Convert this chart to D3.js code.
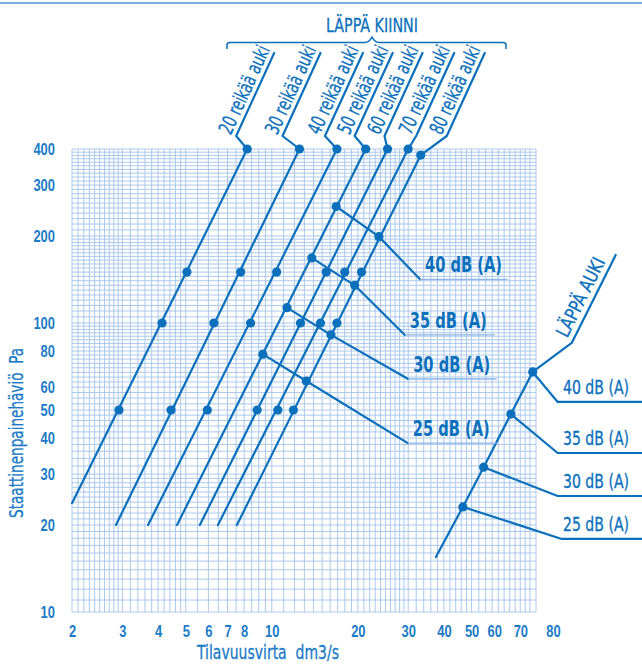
<!DOCTYPE html>
<html>
<head>
<meta charset="utf-8">
<script src="https://cdn.jsdelivr.net/npm/d3@7"></script>
<style>
body { margin: 0; background: #fff; }
#graph svg { display: block; font-family: "Liberation Sans Narrow", "Arial Narrow", "DejaVu Sans Condensed", "Roboto Condensed", sans-serif; }
</style>
</head>
<body>
<div id="graph"></div>
<script>
// axis ticks
var xTicks = [2, 3, 4, 5, 6, 7, 8, 10, 20, 30, 40, 50, 60, 70, 80]
var yTicks = [10, 20, 30, 40, 50, 60, 80, 100, 200, 300, 400]

// log paper subdivisions [from, to, step]
var xGridRanges = [[2, 3, 0.1], [3, 5, 0.2], [5, 10, 0.5], [10, 30, 1], [30, 50, 2], [50, 84, 3]]
var yGridRanges = [[10, 30, 1], [30, 50, 2], [50, 100, 2.5], [100, 200, 5], [200, 400, 10]]

// LÄPPÄ KIINNI : one line per number of open holes
var openings = ['20 reikää auki', '30 reikää auki', '40 reikää auki', '50 reikää auki', '60 reikää auki', '70 reikää auki', '80 reikää auki']
var topFlow = [8.2, 12.5, 16.9, 21.3, 25.4, 30.0, 33.2]
var topPressure = [400, 400, 400, 400, 400, 400, 381]
var bottomFlow = [2.0, 2.85, 3.69, 4.66, 5.6, 6.48, 7.55]
var bottomPressure = [23.8, 20, 20, 20, 20, 20, 20]
var flowAt150 = [5.05, 7.78, 10.4, null, 15.5, 18.0, 20.6]
var flowAt100 = [4.13, 6.27, 8.43, null, 12.6, 14.8, 16.9]
var flowAt50 = [2.92, 4.44, 5.95, null, 8.89, 10.5, 11.9]

// sound levels, marked on the 50 and 80 hole lines
var dbLabels = ['40 dB (A)', '35 dB (A)', '30 dB (A)', '25 dB (A)']
var dbFlow50 = [16.8, 13.8, 11.3, 9.3]
var dbPress50 = [253, 168, 113, 78]
var dbFlow80 = [23.7, 19.5, 16.1, 13.2]
var dbPress80 = [199, 135, 91, 63]

// LÄPPÄ AUKI
var openFlow = [37.5, 46.6, 55.1, 68.6, 81.8]
var openPressure = [15.5, 23.1, 31.7, 48.4, 67.7]
var openDbLabels = [null, '25 dB (A)', '30 dB (A)', '35 dB (A)', '40 dB (A)']

// annotation anchors (chart units)
var dbElbow = [[33.0, 141.6], [29.2, 90.9], [30.0, 64.0], [29.9, 38.4]]
var dbLineEnd = [66.9, 60.3, 61.2, 61.2]
var openElbow = [null, [103.4, 17.9], [100, 25.2], [100, 35.5], [100, 53.3]]
var leaderShift = [-11, -17, -12, -11, -3, 8, 26]
// the printed sheet spreads the last two flow labels apart
var xLabelNudge = {70: 7, 80: 23}

var blue = '#0b70bb'
var textBlue = '#1b7bc6'
var gridColor = '#abc8ec'

var width = 642
var height = 664

var svg = d3.select('#graph').append('svg')
	.attr('width', width)
	.attr('height', height)

var x = d3.scaleLog().domain([2, 84]).range([72, 536])
var y = d3.scaleLog().domain([10, 400]).range([612, 149])

function gridValues(ranges) {
	var vals = []
	ranges.forEach(function(r) {
		var n = Math.round((r[1] - r[0]) / r[2])
		for (var i = 0; i < n; i++) {
			vals.push(r[0] + i * r[2])
		}
	})
	vals.push(ranges[ranges.length - 1][1])
	return vals
}

// top rule
svg.append('line')
	.attr('x1', 0).attr('x2', width)
	.attr('y1', 3).attr('y2', 3)
	.attr('stroke', '#4f94d2').attr('stroke-width', 1.6)

// grid
var grid = svg.append('g').attr('stroke', gridColor).attr('stroke-width', 1)
grid.selectAll('.gx')
	.data(gridValues(xGridRanges))
	.enter().append('line')
	.attr('x1', function(d) { return x(d) })
	.attr('x2', function(d) { return x(d) })
	.attr('y1', y(10)).attr('y2', y(400))
grid.selectAll('.gy')
	.data(gridValues(yGridRanges))
	.enter().append('line')
	.attr('y1', function(d) { return y(d) })
	.attr('y2', function(d) { return y(d) })
	.attr('x1', x(2)).attr('x2', x(84))

// axes
var xAxis = svg.append('g')
	.attr('transform', 'translate(0,' + y(10) + ')')
	.call(d3.axisBottom(x).tickValues(xTicks).tickFormat(d3.format('d')).tickSize(0).tickPadding(13))
var yAxis = svg.append('g')
	.attr('transform', 'translate(' + x(2) + ',0)')
	.call(d3.axisLeft(y).tickValues(yTicks).tickFormat(d3.format('d')).tickSize(0).tickPadding(17))
svg.selectAll('.domain').remove()
svg.selectAll('.tick text')
	.attr('fill', textBlue)
	.attr('font-size', 17)
	.attr('font-weight', 'bold')
	.attr('font-family', null)
	.attr('textLength', function(d) { return String(d).length * 7.2 })
	.attr('lengthAdjust', 'spacingAndGlyphs')
xAxis.selectAll('.tick text')
	.attr('dx', function(d) { return xLabelNudge[d] || 0 })

svg.append('text')
	.attr('x', 197).attr('y', 659)
	.attr('fill', textBlue).attr('font-size', 19)
	.attr('stroke', textBlue).attr('stroke-width', 0.3)
	.attr('textLength', 142).attr('lengthAdjust', 'spacingAndGlyphs')
	.style('white-space', 'pre')
	.text('Tilavuusvirta  dm3/s')

svg.append('text')
	.attr('transform', 'translate(23,518) rotate(-90)')
	.attr('fill', textBlue).attr('font-size', 20)
	.attr('stroke', textBlue).attr('stroke-width', 0.3)
	.attr('textLength', 170).attr('lengthAdjust', 'spacingAndGlyphs')
	.style('white-space', 'pre')
	.text('Staattinenpainehäviö  Pa')

var line = d3.line()
	.x(function(d) { return x(d[0]) })
	.y(function(d) { return y(d[1]) })

var marks = svg.append('g')
	.attr('stroke', blue).attr('stroke-width', 2.2)
	.attr('fill', 'none').attr('stroke-linecap', 'round').attr('stroke-linejoin', 'round')

var dots = []

// closed damper lines and their leaders / slanted labels
for (var i = 0; i < openings.length; i++) {
	marks.append('path')
		.attr('d', line([[bottomFlow[i], bottomPressure[i]], [topFlow[i], topPressure[i]]]))
	dots.push([topFlow[i], topPressure[i]])
	if (flowAt150[i] !== null) dots.push([flowAt150[i], 150])
	if (flowAt100[i] !== null) dots.push([flowAt100[i], 100])
	if (flowAt50[i] !== null) dots.push([flowAt50[i], 50])

	var px = x(topFlow[i])
	var py = y(topPressure[i])
	var bx = px + leaderShift[i]
	var by = 136
	var tx = bx + 38
	var ty = 53
	marks.append('path').attr('d', 'M' + px + ',' + py + 'L' + bx + ',' + by + 'L' + tx + ',' + ty)
	var ang = Math.atan2(ty - by, tx - bx) * 180 / Math.PI
	svg.append('text')
		.attr('transform', 'translate(' + bx + ',' + by + ') rotate(' + ang + ')')
		.attr('x', -2).attr('y', -5)
		.attr('fill', blue).attr('font-size', 20)
		.attr('stroke', blue).attr('stroke-width', 0.25)
		.attr('textLength', 95).attr('lengthAdjust', 'spacingAndGlyphs')
		.text(openings[i])
}

// sound level lines across the closed damper lines
for (var j = 0; j < dbLabels.length; j++) {
	marks.append('path')
		.attr('d', line([[dbFlow50[j], dbPress50[j]], [dbFlow80[j], dbPress80[j]], dbElbow[j]]))
	dots.push([dbFlow50[j], dbPress50[j]])
	dots.push([dbFlow80[j], dbPress80[j]])
	svg.append('line')
		.attr('x1', x(dbElbow[j][0])).attr('x2', x(dbLineEnd[j]))
		.attr('y1', y(dbElbow[j][1])).attr('y2', y(dbElbow[j][1]))
		.attr('stroke', '#8fb6e6').attr('stroke-width', 1.3)
	svg.append('text')
		.attr('x', x(dbElbow[j][0]) + 5)
		.attr('y', y(dbElbow[j][1]) - 7)
		.attr('fill', blue).attr('font-size', 21).attr('font-weight', 'bold')
		.attr('textLength', 77).attr('lengthAdjust', 'spacingAndGlyphs')
		.text(dbLabels[j])
}

// LÄPPÄ AUKI line
marks.append('path').attr('d', line(openFlow.map(function(d, k) { return [d, openPressure[k]] })))
var last = openFlow.length - 1
var lx = x(openFlow[last])
var ly = y(openPressure[last])
marks.append('path').attr('d', 'M' + lx + ',' + ly + 'L' + (lx + 39) + ',' + (ly - 29) + 'L' + (lx + 83) + ',' + (ly - 117))
var aAng = Math.atan2(-88, 44) * 180 / Math.PI
svg.append('text')
	.attr('transform', 'translate(' + (lx + 39) + ',' + (ly - 29) + ') rotate(' + aAng + ')')
	.attr('x', 2).attr('y', -6)
	.attr('fill', blue).attr('font-size', 19)
	.attr('stroke', blue).attr('stroke-width', 0.3)
	.attr('textLength', 86).attr('lengthAdjust', 'spacingAndGlyphs')
	.text('LÄPPÄ AUKI')

for (var k = 1; k < openFlow.length; k++) {
	dots.push([openFlow[k], openPressure[k]])
	var ex = x(openElbow[k][0])
	var ey = y(openElbow[k][1])
	marks.append('path')
		.attr('d', 'M' + x(openFlow[k]) + ',' + y(openPressure[k]) + 'L' + ex + ',' + ey + 'L' + width + ',' + ey)
	svg.append('text')
		.attr('x', 563).attr('y', ey - 8)
		.attr('fill', blue).attr('font-size', 19)
		.attr('stroke', blue).attr('stroke-width', 0.3)
		.attr('textLength', 66).attr('lengthAdjust', 'spacingAndGlyphs')
		.text(openDbLabels[k])
}

svg.append('g').selectAll('circle')
	.data(dots)
	.enter().append('circle')
	.attr('cx', function(d) { return x(d[0]) })
	.attr('cy', function(d) { return y(d[1]) })
	.attr('r', 4.6)
	.attr('fill', blue)

// LÄPPÄ KIINNI title and brace
svg.append('text')
	.attr('x', 372).attr('y', 32)
	.attr('text-anchor', 'middle')
	.attr('fill', blue).attr('font-size', 20)
	.attr('stroke', blue).attr('stroke-width', 0.3)
	.attr('textLength', 92).attr('lengthAdjust', 'spacingAndGlyphs')
	.text('LÄPPÄ KIINNI')

svg.append('path')
	.attr('d', 'M227,49 L227,45 Q227,42.5 230,42.5 L365,42.5 Q369,42.5 372,37 Q375,42.5 379,42.5 L503,42.5 Q506,42.5 506,45 L506,49')
	.attr('fill', 'none').attr('stroke', blue).attr('stroke-width', 1.5)
</script>
</body>
</html>
